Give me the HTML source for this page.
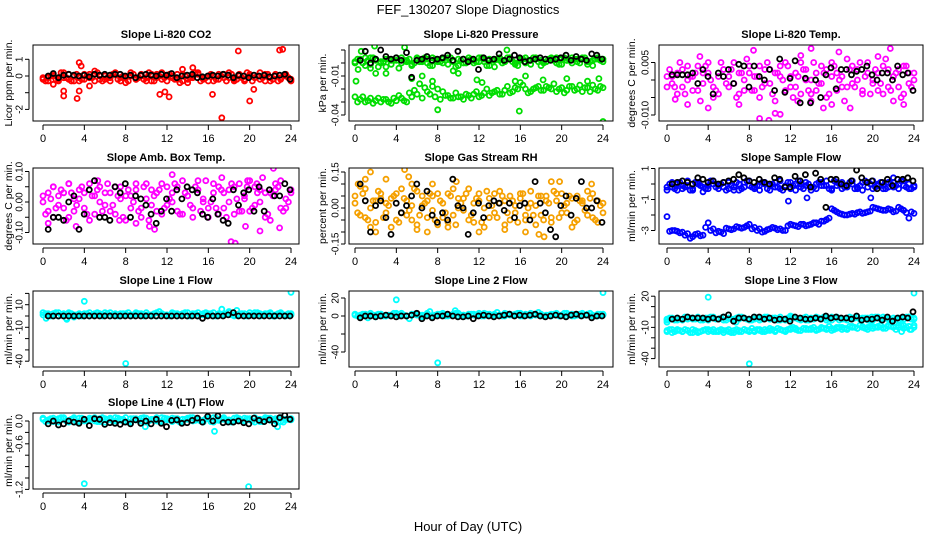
<!DOCTYPE html>
<html><head><meta charset="utf-8"><style>
html,body{margin:0;padding:0;background:#fff;}
svg{display:block;font-family:"Liberation Sans",Arial,sans-serif;}
</style></head><body>
<svg id="chart" width="936" height="540" viewBox="0 0 936 540" xmlns="http://www.w3.org/2000/svg">
<rect width="936" height="540" fill="#fff"/>
<text x="468" y="14" font-size="13" text-anchor="middle">FEF_130207  Slope Diagnostics</text>
<text x="468" y="531" font-size="13" text-anchor="middle">Hour of Day (UTC)</text>
</svg>
<script>
const xTicks=[0,4,8,12,16,20,24];
// CO2
const co2A=[-0.2,-0.1,0.1,-0.3,0.2,-0.2,0,-0.3,0.1,-0.1,0.3,-0.2,0,-0.3,0.1,-0.1,-0.4,0.2,-0.2,0,-0.3,0.1,-0.1,0.2,-0.3,0,-0.2,0.1,-0.4,-0.1,0.1,-0.2,0,-0.3,0.1,-0.1,0.2,-0.2,0,-0.3,0.1,-0.1,-0.2,0.1,-0.3,0,-0.1,0.1,-0.2];
const co2B=[-0.3,0,-0.2,0.2,-0.1,-0.3,0.1,-0.2,0,-0.1,0.2,-0.3,-0.1,0.1,-0.2,0,-0.3,0.1,-0.1,-0.2,0.2,-0.3,0,-0.1,0.1,-0.2,-0.4,0,-0.1,0.2,-0.3,-0.1,0.1,-0.2,0,-0.3,0.1,-0.2,-0.1,0.2,-0.3,0,-0.1,0.1,-0.2,-0.3,0,-0.1];
const co2C=[-0.1,-0.3,0,-0.2,-0.1,0.1,-0.3,-0.1,-0.2,0.1,-0.3,0,-0.2,-0.1,0.2,-0.3,-0.1,0,-0.2,0.1,-0.1,-0.3,0.1,-0.2,0,-0.1,0.1,-0.3,-0.2,0,0.2,-0.1,-0.3,0,-0.2,0.1,-0.1,-0.3,0.1,-0.2,0,-0.1,0.2,-0.3,-0.1,0.1,-0.2,0,-0.3];
const co2OutT=[2,2,3.3,3.5,3.5,3.7,4.5,11.3,11.8,12.2,16.4,17.3,18.9,20,20.4,22.9,23.2,1,14.5,13.5];
const co2OutV=[-0.9,-1.2,-1.35,-0.9,0.8,0.6,-0.6,-1.1,-0.95,-1.25,-1.1,-2.5,1.5,-1.5,-0.8,1.55,1.6,-0.5,0.5,0.4];
const co2Black=[0,0.15,-0.1,0.05,0.1,0.05,0,0.05,-0.05,0.1,0.05,0.1,0.05,0.1,0.1,0,0.05,-0.1,0.05,0.1,0.05,0,0.1,0.05,0.15,-0.1,0,0.05,0.1,-0.1,-0.05,0,0.05,0,0.1,0.05,-0.1,0.05,0,-0.1,0.05,0,0.05,-0.05,0,0.05,0.1,-0.2];
// Pressure
const presA=[0.001,0.003,-0.002,0.004,0.002,0,0.003,-0.001,0.002,0.004,0.001,-0.002,0.003,0.002,0,0.004,0.001,0.003,-0.001,0.002,0.003,0,0.004,0.002,0.001,0.003,-0.002,0.002,0.004,0.001,0.003,0,0.002,0.004,-0.001,0.003,0.002,0.001,0.004,0,0.003,0.002,0.004,0.001,0.003,-0.001,0.002,0.004,0.003];
const presB=[0.003,0,0.002,0.004,-0.003,0.001,0.003,0.002,-0.004,0.002,0.003,0,0.001,0.004,-0.002,0.003,0.001,0.002,0.004,-0.003,0.002,0,0.003,0.001,0.004,-0.002,0.002,0.003,0,0.004,0.001,-0.002,0.003,0.002,0.004,0.001,0,0.003,0.002,-0.001,0.004,0.002,0.003,0,0.004,0.001,0.003,0.002];
const presE=[0,0.002,0.004,-0.001,0.003,0.001,-0.003,0.002,0.004,0,0.002,-0.001,0.004,0.001,0.003,-0.002,0.002,0,0.004,0.001,-0.002,0.003,0.002,0,0.004,0.001,0.003,-0.003,0.002,0.001,0.004,-0.001,0.003,0,0.002,0.004,-0.002,0.001,0.003,0.004,-0.001,0.002,0,0.003,0.004,0.001,-0.002,0.003,0.001];
const presC=[-0.026,-0.028,-0.03,-0.027,-0.029,-0.03,-0.028,-0.031,-0.029,-0.027,-0.03,-0.026,-0.024,-0.027,-0.022,-0.018,-0.02,-0.022,-0.025,-0.027,-0.026,-0.028,-0.025,-0.024,-0.026,-0.023,-0.025,-0.022,-0.024,-0.021,-0.023,-0.019,-0.015,-0.02,-0.022,-0.019,-0.021,-0.018,-0.02,-0.022,-0.019,-0.021,-0.018,-0.02,-0.022,-0.019,-0.017,-0.021,-0.019];
const presD=[-0.03,-0.026,-0.029,-0.031,-0.027,-0.028,-0.03,-0.027,-0.025,-0.029,-0.023,-0.021,-0.016,-0.019,-0.024,-0.026,-0.028,-0.025,-0.027,-0.023,-0.026,-0.024,-0.027,-0.022,-0.025,-0.02,-0.023,-0.021,-0.024,-0.018,-0.022,-0.02,-0.017,-0.023,-0.02,-0.018,-0.021,-0.019,-0.016,-0.02,-0.023,-0.018,-0.021,-0.017,-0.019,-0.022,-0.02,-0.018];
const presOutT=[0.1,0.3,1.9,0.6,4.8,8,15.9,24,14.7,2,3,5.5,6.5,7.5,10,11.8,12.3,15.5,16.5,18.2,20.5,22.5,23.6,1.5,9.5];
const presOutV=[-0.014,-0.005,0.013,0.009,0.012,-0.036,-0.037,-0.045,0.01,-0.008,-0.008,-0.012,-0.01,-0.014,-0.008,-0.013,-0.015,-0.014,-0.01,-0.013,-0.012,-0.014,-0.012,-0.004,-0.006];
const presBlack=[0.002,0.009,0,0.003,0.01,0.005,0.003,0.004,0.002,0.008,-0.011,0.002,0.003,0.005,0.002,0.003,0.004,0.006,0.002,0.009,0.003,0.001,0.003,-0.005,0.004,0.002,0.003,0.007,0.002,0.003,0.006,0.004,0.001,0.002,0.003,0.004,0.003,0.002,0.003,0.004,0.006,0.002,0.005,0.003,0.002,0.007,0.006,0.003];
// Li-820 temp
const ltA=[-0.002,0.001,-0.004,0.003,0,-0.003,0.004,-0.001,0.002,-0.005,0.001,0.003,-0.002,0.005,-0.004,0,0.002,-0.003,0.004,-0.001,0.003,-0.006,0.001,0.005,-0.002,0.002,-0.004,0.003,0,-0.003,0.004,-0.005,0.001,0.002,-0.002,0.006,-0.001,0.003,-0.004,0.002,0,-0.003,0.004,-0.002,0.001,0.003,-0.004,0.002,0];
const ltB=[0.003,-0.002,0.005,-0.004,0.001,0.002,-0.006,0.004,0,-0.003,0.005,-0.001,0.003,-0.005,0.002,0.006,-0.003,0.001,-0.002,0.005,-0.004,0.002,0,0.004,-0.005,0.001,0.003,-0.003,0.005,-0.001,0.002,-0.004,0.004,0,-0.006,0.003,-0.002,0.005,0.001,-0.004,0.003,-0.001,0.006,-0.003,0.002,-0.005,0.004,-0.002];
const ltC=[0.001,-0.001,0.002,-0.002,0.004,0.001,-0.003,0.002,0.005,-0.002,-0.004,0.003,0.001,-0.001,0.002,-0.003,0.004,0.001,-0.005,0.003,-0.001,0.002,0.004,-0.003,0.001,-0.002,0.005,0,-0.004,0.002,-0.001,0.003,0.005,-0.003,0.001,-0.002,0.004,0,-0.003,0.005,-0.001,0.002,-0.004,0.003,0.001,-0.002,0.004,-0.001,0.002];
const ltOutT=[2,4,7,9,9.9,10.5,11,12.7,14,15.2,16,17.8,22,23,8.4,14,16.7,21.7,3.2,20.5,0.8,13];
const ltOutV=[-0.007,-0.008,-0.007,-0.011,-0.0115,-0.0095,-0.0098,-0.006,-0.006,-0.008,-0.007,-0.008,-0.006,-0.007,0.0085,0.009,0.008,0.009,0.0067,0.0067,-0.0055,0.007];
const ltBlack=[0.0015,0.0015,0.0015,0.0015,0.002,-0.001,0.003,0.001,-0.004,0.002,0.001,0.003,-0.001,0.0045,0.004,-0.002,0.004,0.001,0,0.003,-0.003,0.006,-0.0035,0.0005,0.0055,-0.0065,0.0005,-0.0065,0,-0.005,0.0015,0.0035,-0.0025,0.003,0.003,0.0015,0.0025,0.003,0.004,0.0015,0,0.002,0.002,0,0.004,0.0015,0.002,-0.003];
// Amb box temp
const abA=[0.02,-0.03,0.05,-0.01,0.03,-0.05,0.01,0.04,-0.02,0.06,-0.04,0,0.03,-0.03,0.05,0.01,-0.06,0.02,0.04,-0.02,0.06,-0.01,0.03,-0.04,0.05,0,-0.03,0.07,0.02,-0.05,0.04,0.01,-0.02,0.06,-0.04,0.03,0,0.05,-0.03,0.02,0.07,-0.01,0.04,-0.05,0.03,0.06,-0.02,0.01,0.04];
const abB=[-0.04,0.01,-0.02,0.04,-0.06,0.03,-0.01,0.05,-0.04,0.02,0.04,-0.03,0.06,-0.01,0.02,-0.05,0.04,0,-0.03,0.05,-0.06,0.02,0.04,-0.02,0.01,0.06,-0.04,0.03,-0.01,0.05,-0.03,0.07,0,-0.02,0.04,-0.05,0.06,0.01,-0.03,0.05,-0.02,0.03,0.08,-0.04,0.02,0.05,-0.03,0];
const abC=[0,0.03,-0.05,0.02,-0.02,0.06,-0.03,0.01,0.03,-0.06,0.02,0.05,-0.01,0.03,-0.04,0.05,0.02,-0.02,0.06,-0.05,0.01,0.04,-0.03,0.06,-0.01,0.03,0.05,-0.04,0.02,-0.02,0.07,0,-0.05,0.03,0.05,-0.02,0.04,-0.04,0.06,0.01,-0.03,0.05,0,0.03,-0.06,0.04,0.07,-0.02,0.03];
const abOutT=[0.5,1,2.5,3.2,5.3,7.4,9,10.3,10.8,12.5,17.3,18.2,18.6,19.6,19.8,21,22.3,22.9,20.7];
const abOutV=[-0.07,0.05,0.06,-0.08,0.07,-0.06,-0.07,-0.08,-0.09,0.09,0.08,-0.13,-0.135,-0.08,0.07,-0.095,0.11,-0.085,0.06];
const abBlack=[-0.09,-0.05,-0.05,-0.06,0,0.02,-0.09,-0.04,0.04,0.07,-0.05,-0.05,-0.06,0.05,0.03,0.06,-0.05,0.02,0.01,-0.01,-0.04,-0.07,-0.03,0.01,-0.03,0.04,0.01,0.05,0.04,0.03,-0.04,-0.05,0.01,-0.04,-0.06,-0.07,0.04,-0.01,0.03,0.04,-0.03,0.05,-0.03,0.04,0.02,0.02,0.06,0.04];
// Gas stream RH
const rhA=[0.05,-0.03,0.08,0,-0.06,0.04,0.02,-0.08,0.06,-0.02,0.03,-0.05,0.07,0.01,-0.04,0.05,-0.07,0.02,0.06,-0.03,0.04,-0.01,0.08,-0.06,0.03,0,-0.04,0.06,0.02,-0.07,0.05,-0.02,0.04,-0.05,0.07,0.01,-0.03,0.05,-0.06,0.03,0.06,-0.02,0.04,-0.05,0.02,0.07,-0.04,0.03,-0.02];
const rhB=[-0.02,0.06,-0.05,0.03,0.07,-0.04,0.01,0.05,-0.06,0.04,-0.01,0.08,-0.03,0.02,0.06,-0.05,0.03,-0.02,0.05,-0.07,0.02,0.06,-0.03,0.04,-0.06,0.07,0.01,-0.04,0.05,-0.02,0.03,-0.06,0.06,0,-0.03,0.05,-0.05,0.02,0.07,-0.04,0.01,0.05,-0.06,0.03,-0.01,0.04,-0.05,0.01];
const rhC=[0.02,0.09,-0.04,-0.08,0.03,0.06,-0.02,0.04,-0.05,0.08,-0.03,0.01,-0.07,0.05,0.03,-0.01,0.06,-0.04,-0.06,0.08,0,0.04,-0.05,0.02,0.06,-0.08,0.04,-0.02,0.07,0.03,-0.05,0.01,0.06,-0.03,0.02,-0.07,0.05,0.03,-0.04,0.06,-0.02,0.02,-0.08,0.05,0.03,-0.03,0.06,-0.06,0.02];
const rhOutT=[0.3,1,1.5,3,3.3,4.8,5.2,5.5,6,7,7.5,9,9.8,12,16.5,17.8,18.3,19,19.8,22.9,2,14.5];
const rhOutV=[0.1,0.12,0.15,0.12,-0.17,0.16,0.13,0.1,-0.09,-0.1,0.1,-0.08,0.11,-0.1,-0.1,-0.11,-0.12,0.11,0.11,0.1,-0.1,-0.09];
const rhBlack=[0.1,0.03,-0.1,0.01,0.03,-0.04,-0.11,0.02,-0.02,0.01,0.05,0.1,0,0.07,-0.03,-0.06,-0.02,-0.05,0.12,0.01,0,-0.11,-0.02,0.02,-0.04,0.01,0.03,0.02,-0.01,0.02,-0.04,0.01,0.02,-0.05,0.11,0.02,-0.02,-0.09,-0.12,0.01,0.05,-0.03,0.04,0.11,0,0,0.03,-0.06];
// Sample flow
const sfA=[-0.2,0.1,-0.4,-0.1,0.2,-0.3,0,-0.5,-0.1,0.2,-0.3,-0.2,0.1,-0.4,0,-0.2,0.2,-0.3,-0.1,0.1,-0.4,-0.2,0.2,-0.1,-0.3,0,-0.2,0.1,-0.4,0,-0.1,0.2,-0.3,-0.1,0.1,-0.2,0,-0.3,0.1,-0.2,0.2,-0.1,-0.3,0.1,-0.2,0,0.2,-0.3,-0.1];
const sfB=[0,-0.3,0.1,-0.2,-0.4,0.1,-0.1,-0.3,0.2,-0.2,0,-0.4,-0.1,0.1,-0.3,0.2,-0.2,-0.1,0.1,-0.3,0,-0.2,-0.4,0.1,-0.1,0.2,-0.3,0,-0.2,0.1,-0.1,-0.3,0.2,0,-0.2,0.1,-0.3,-0.1,0.2,0,-0.2,0.1,-0.3,0,-0.1,0.2,-0.2,-0.3];
const sfE=[-0.4,-0.2,0,-0.3,-0.1,-0.4,0.1,-0.2,-0.3,0,-0.1,0.1,-0.3,-0.2,-0.4,0.1,-0.1,-0.2,-0.4,0,-0.1,0.1,-0.3,-0.2,0.1,-0.4,0,-0.1,-0.2,-0.3,0.1,-0.1,-0.4,0.1,-0.3,-0.1,0.2,-0.2,-0.4,0.1,-0.3,0,-0.1,-0.2,0.1,-0.3,-0.1,0,-0.2];
const sfC=[-2.1,-3,-3.05,-3.1,-3.2,-3.4,-3.2,-3.3,-2.5,-2.9,-3.05,-3.2,-2.9,-2.9,-2.8,-2.8,-2.6,-2.8,-2.9,-3.05,-2.9,-2.85,-2.9,-3,-2.6,-2.7,-2.6,-2.7,-2.6,-2.5,-2.4,-2.3,-1.6,-1.8,-1.95,-2,-1.9,-1.85,-1.9,-1.8,-1.5,-1.6,-1.7,-1.6,-1.8,-1.5,-1.7,-2.2,-1.9];
const sfD=[-3.05,-3,-3.15,-3.3,-3.5,-3.25,-3.35,-2.8,-3,-3.15,-3.1,-2.85,-2.95,-2.75,-2.85,-2.7,-2.9,-3,-3.1,-2.95,-2.8,-2.95,-3,-2.7,-2.65,-2.75,-2.6,-2.65,-2.5,-2.6,-2.4,-2.2,-1.7,-1.9,-2,-1.95,-1.95,-1.8,-1.85,-1.75,-1.55,-1.65,-1.7,-1.65,-1.75,-1.6,-1.85,-1.8];
const sfOutT=[11.8,13.6,19.8,22];
const sfOutV=[-1.1,-0.9,-0.9,0.4];
const sfBlack=[0,0.1,0.2,0.1,0,0.4,0.3,0.1,0.2,0,0.1,0.2,0.3,0.6,0.4,0.2,0.1,0.3,0.1,0,0.4,0.3,-0.2,-0.2,0.5,0.2,0.6,-0.2,0.7,0.3,-1.5,0.3,0.3,0,-0.1,0.2,0.9,0.4,0.1,0.2,-0.3,0.1,0.3,-0.1,0.3,0.3,0.4,0.2];
// Line 1
const l1A=[1,2,0,3,1,2,-1,1,2,0,2,1,3,0,1,2,1,0,2,1,3,1,0,2,1,3,2,1,0,2,3,1,2,0,1,2,4,1,2,0,1,3,2,1,2,0,3,1,2];
const l1B=[2,0,3,1,-2,2,1,0,2,1,3,0,2,1,0,2,3,1,2,0,1,2,4,1,0,2,1,3,0,2,1,3,2,0,1,2,1,5,2,0,1,3,1,2,0,2,1,2];
const l1C=[3,1,2,0,2,3,1,2,0,3,1,2,1,3,2,0,2,1,3,2,1,0,3,2,1,2,0,2,3,1,0,2,1,3,2,1,3,0,1,2,3,1,0,2,3,1,2,0,1];
const l1OutT=[0.3,4,8,24,2.3,17.3];
const l1OutV=[-2,13,-42,21,-3,6];
const l1Black=[0,0,0,0,0,0,0,0,0,0,0,0,0,0,0,0,0,0,0,0,0,0,0,0,0,0,0,0,0,0,-2,0,0,0,0,1,3,0,0,0,0,0,0,0,0,0,0,0];
// Line 2
const l2A=[1,0,2,1,-1,2,0,1,3,1,0,2,1,-1,2,0,1,3,1,2,0,1,2,1,3,0,1,2,1,0,2,1,3,2,0,1,2,1,0,2,1,3,0,1,2,1,0,2,1];
const l2B=[0,2,-2,1,2,0,1,3,0,1,-3,2,1,0,5,1,2,0,1,3,1,0,2,1,0,2,1,4,0,2,1,3,0,1,2,4,0,1,2,0,3,1,0,2,1,3,0,2];
const l2C=[2,1,0,3,1,2,0,1,2,3,0,1,2,1,3,0,2,1,0,2,3,1,0,2,1,3,2,0,1,3,1,2,0,1,3,2,1,0,2,3,1,0,2,1,3,2,1,0,2];
const l2OutT=[4,8,24,9.7];
const l2OutV=[18,-52,26,6];
const l2Black=[-2,0,0,-1,0,1,0,-1,0,0,1,3,-3,0,-2,0,0,2,0,-1,-1,0,-3,0,1,0,-1,0,1,2,0,1,0,1,2,0,-1,0,1,0,-1,1,2,0,1,-2,0,0];
// Line 3
const l3A=[-2,-1,-3,-2,0,-2,-1,-3,-1,0,-2,-3,-1,-2,0,-1,-3,-2,-1,0,-2,-1,-3,-2,0,-1,-2,-3,-1,0,-2,-1,-3,0,-2,-1,-2,0,-1,-3,-2,-1,0,-2,-1,-3,-2,0,-1];
const l3B=[-1,-3,-2,0,-1,-2,-3,-1,0,-2,-1,-3,-2,-1,0,-2,-3,-1,-2,0,-1,-3,-2,-1,0,-2,-1,-3,-2,-1,0,-2,-1,-3,-2,0,-1,-2,-1,-3,0,-2,-1,-3,-2,-1,0,-2];
const l3C=[-14,-12,-13,-14,-13,-15,-14,-13,-14,-12,-14,-13,-14,-15,-13,-12,-13,-14,-13,-12,-13,-14,-12,-13,-11,-12,-13,-12,-11,-12,-11,-12,-11,-10,-12,-11,-10,-11,-9,-10,-11,-9,-10,-8,-9,-10,-8,-9,-10];
const l3D=[-12,-14,-13,-12,-15,-13,-14,-12,-13,-14,-12,-13,-15,-12,-14,-13,-11,-12,-14,-13,-12,-11,-13,-12,-10,-13,-11,-12,-10,-12,-11,-9,-12,-10,-11,-9,-10,-8,-11,-9,-10,-8,-11,-9,-12,-8,-10,-12];
const l3E=[-13,-15,-12,-14,-13,-12,-15,-13,-12,-14,-13,-15,-12,-13,-14,-12,-14,-13,-12,-14,-11,-13,-12,-14,-12,-11,-13,-11,-12,-13,-10,-11,-13,-11,-10,-12,-9,-11,-10,-12,-9,-10,-11,-9,-10,-8,-11,-9,-8];
const l3F=[-3,-2,-1,-3,-2,-1,0,-2,-3,-1,-2,0,-1,-3,-2,-1,-2,0,-3,-1,-2,-1,0,-3,-2,-1,-3,0,-2,-1,-2,-3,0,-1,-2,-3,-1,0,-2,-1,-3,0,-2,-1,-3,-1,-2,0,-2];
const l3OutT=[4,8,24,12,19.9,23.6,22.8,0,6.7];
const l3OutV=[19,-45,23,1,0,-12,-14,-5,-5];
const l3Black=[-2,-1,-2,0,-1,-1,-1,-2,-1,-2,0,2,-4,-1,-1,-2,0,0,-2,-1,-3,-2,-2,-4,0,-1,-2,-2,-1,-2,1,-1,0,-1,-1,-2,1,-3,-2,-2,-1,-3,0,-4,-1,0,-1,5];
// Line 4
const l4A=[0.03,0,0.05,-0.02,0.04,0.01,0.06,-0.01,0.03,0.05,0,0.04,-0.02,0.03,0.06,0.01,-0.01,0.04,0.02,0.05,-0.02,0.03,0,0.06,0.02,-0.01,0.04,0.03,0.05,0,0.02,-0.02,0.04,0.06,0.01,0.03,-0.01,0.05,0.02,0,0.04,-0.02,0.03,0.06,0.01,0.04,-0.01,0.03,0.02];
const l4B=[-0.01,0.04,0.02,0.06,0,0.03,-0.02,0.05,0.01,0.04,-0.01,0.06,0.02,0,0.05,0.03,-0.02,0.04,0.01,0.06,0,0.03,-0.01,0.05,0.02,0.04,-0.02,0.03,0.06,0.01,0,0.04,-0.01,0.05,0.03,0.02,-0.02,0.06,0.01,0.04,0,0.03,-0.01,0.05,0.02,0.04,-0.02,0.03];
const l4C=[0.05,0.02,-0.01,0.04,0.06,-0.02,0.03,0.05,0,0.02,0.06,-0.01,0.04,0.05,0,0.03,0.06,-0.02,0.04,0,0.05,0.02,0.06,-0.01,0.04,0.05,0.01,-0.02,0.03,0.06,0.04,0.01,0.05,-0.02,0.03,0.06,0.02,0,0.04,0.05,0.02,0.06,-0.01,0.03,0.05,0,0.06,0.02,0.04];
const l4OutT=[4,12,19.9,16.6,9.9,22.7];
const l4OutV=[-1.1,-1.3,-1.15,-0.18,-0.1,-0.1];
const l4Black=[-0.05,0,-0.07,-0.05,0,-0.02,-0.04,0.03,-0.08,0.04,0.03,-0.06,-0.03,-0.04,-0.06,-0.02,-0.05,0.02,-0.04,0,-0.05,0.03,-0.04,-0.1,0.01,0.02,-0.04,-0.03,0.01,0.05,-0.02,0.08,0,0.09,-0.03,-0.02,-0.02,0,-0.03,-0.05,0.05,0.01,-0.01,0.02,-0.05,0.06,0.1,0.03];

const NS='http://www.w3.org/2000/svg';
const svg=document.getElementById('chart');
function mk(tag,attrs,parent){const e=document.createElementNS(NS,tag);for(const k in attrs)e.setAttribute(k,attrs[k]);(parent||svg).appendChild(e);return e;}

const cols=[{bx0:33,bx1:299,x0:43,x24:291,yl:9,tl:20},{bx0:349,bx1:613,x0:355,x24:603,yl:323,tl:336},{bx0:659,bx1:923,x0:667,x24:914,yl:632,tl:646}];
const rows=[{top:45,bot:121},{top:168,bot:244},{top:291,bot:367},{top:413,bot:489}];

const panels=[
 {id:'co2',title:'Slope Li-820 CO2',ylab:'Licor ppm per min.',r:0,c:0,col:'#ff0000',v0:0,y0:76,ppu:16.7,ticks:[1,0,-1,-2],labs:['1','0','','-2'],bands:[co2A,co2B,co2C],outT:co2OutT,outV:co2OutV,blk:co2Black},
 {id:'pressure',title:'Slope Li-820 Pressure',ylab:'kPa per min.',r:0,c:1,col:'#00dd00',v0:0,y0:63,ppu:1300,ticks:[0.01,0,-0.01,-0.02,-0.03,-0.04],labs:['','','-0.01','','','-0.04'],bands:[presA,presB,presE,presC,presD],outT:presOutT,outV:presOutV,blk:presBlack},
 {id:'li820-temp',title:'Slope Li-820 Temp.',ylab:'degrees C per min.',r:0,c:2,col:'#ff00ff',v0:0,y0:80,ppu:3500,ticks:[0.005,0,-0.005,-0.01],labs:['0.005','','','-0.010'],bands:[ltA,ltB,ltC],outT:ltOutT,outV:ltOutV,blk:ltBlack},
 {id:'amb-box-temp',title:'Slope Amb. Box Temp.',ylab:'degrees C per min.',r:1,c:0,col:'#ff00ff',v0:0,y0:202,ppu:305,ticks:[0.1,0.05,0,-0.05,-0.1],labs:['0.10','','0.00','','-0.10'],bands:[abA,abB,abC],outT:abOutT,outV:abOutV,blk:abBlack},
 {id:'gas-stream-rh',title:'Slope Gas Stream RH',ylab:'percent per min.',r:1,c:1,col:'#f5a000',v0:0,y0:208,ppu:240,ticks:[0.15,0.1,0.05,0,-0.05,-0.1,-0.15],labs:['0.15','','','0.00','','','-0.15'],bands:[rhA,rhB,rhC],outT:rhOutT,outV:rhOutV,blk:rhBlack},
 {id:'sample-flow',title:'Slope Sample Flow',ylab:'ml/min per min.',r:1,c:2,col:'#0000ff',v0:0,y0:184,ppu:15.5,ticks:[1,0,-1,-2,-3],labs:['1','','-1','','-3'],bands:[sfA,sfB,sfE,sfC,sfD],outT:sfOutT,outV:sfOutV,blk:sfBlack},
 {id:'line1-flow',title:'Slope Line 1 Flow',ylab:'ml/min per min.',r:2,c:0,col:'#00ffff',v0:0,y0:316,ppu:1.13,ticks:[20,10,0,-10,-20,-30,-40],labs:['','10','','-10','','','-40'],bands:[l1A,l1B,l1C],outT:l1OutT,outV:l1OutV,blk:l1Black},
 {id:'line2-flow',title:'Slope Line 2 Flow',ylab:'ml/min per min.',r:2,c:1,col:'#00ffff',v0:0,y0:316,ppu:0.9,ticks:[20,0,-20,-40],labs:['20','0','','-40'],bands:[l2A,l2B,l2C],outT:l2OutT,outV:l2OutV,blk:l2Black},
 {id:'line3-flow',title:'Slope Line 3 Flow',ylab:'ml/min per min.',r:2,c:2,col:'#00ffff',v0:0,y0:317,ppu:1.04,ticks:[20,10,0,-10,-20,-30,-40],labs:['20','','','-10','','','-40'],bands:[l3A,l3B,l3F,l3C,l3D,l3E],outT:l3OutT,outV:l3OutV,blk:l3Black},
 {id:'line4-flow',title:'Slope Line 4 (LT) Flow',ylab:'ml/min per min.',r:3,c:0,col:'#00ffff',v0:0,y0:421,ppu:57,ticks:[0,-0.2,-0.4,-0.6,-0.8,-1,-1.2],labs:['0.0','','-0.6','','','','-1.2'],bands:[l4A,l4B,l4C],outT:l4OutT,outV:l4OutV,blk:l4Black}
];

panels.forEach(p=>{
  const C=cols[p.c],R=rows[p.r];
  const g=mk('g',{});
  
  
  const xs=h=>C.x0+(C.x24-C.x0)*h/24;
  const ys=v=>p.y0-(v-p.v0)*p.ppu;
  const clip=mk('clipPath',{id:'clip-'+p.id},g);
  mk('rect',{x:C.bx0,y:R.top,width:C.bx1-C.bx0,height:R.bot-R.top},clip);
  const t=mk('text',{x:(C.bx0+C.bx1)/2,y:R.top-7,'font-size':11,'font-weight':'bold','text-anchor':'middle'},g);
  t.textContent=p.title;
  
  
  const yl=mk('text',{x:C.yl,y:(R.top+R.bot)/2,'font-size':10.5,'text-anchor':'middle',transform:`rotate(-90 ${C.yl} ${(R.top+R.bot)/2})`,'dominant-baseline':'central'},g);
  yl.textContent=p.ylab;
  
  
  const xa=mk('g',{},g);
  
  
  mk('line',{x1:xs(0),x2:xs(24),y1:R.bot+4,y2:R.bot+4,stroke:'#000','stroke-width':1},xa);
  xTicks.forEach(v=>{
    mk('line',{x1:xs(v),x2:xs(v),y1:R.bot+4,y2:R.bot+9,stroke:'#000'},xa);
    const tl=mk('text',{x:xs(v),y:R.bot+21,'font-size':11,'text-anchor':'middle'},xa);
    tl.textContent=String(v);
    
    
  });
  const ya=mk('g',{},g);
  
  
  const ax=C.bx0-4;
  mk('line',{x1:ax,x2:ax,y1:ys(p.ticks[0]),y2:ys(p.ticks[p.ticks.length-1]),stroke:'#000'},ya);
  p.ticks.forEach((v,i)=>{
    const y=ys(v);
    mk('line',{x1:ax-4,x2:ax,y1:y,y2:y,stroke:'#000'},ya);
    if(p.labs[i]){
      const tl=mk('text',{x:C.tl,y:y,'font-size':10,'text-anchor':'middle','dominant-baseline':'central',transform:`rotate(-90 ${C.tl} ${y})`},ya);
      tl.textContent=p.labs[i];
      
      
    }
  });
  const pts=mk('g',{'clip-path':`url(#clip-${p.id})`,fill:'none','stroke-width':1.8},g);
  
  
  const dot=(h,v,col)=>{
    const c=mk('circle',{cx:xs(h).toFixed(1),cy:ys(v).toFixed(1),r:2.5,stroke:col},pts);
    
    
  };
  p.bands.forEach(arr=>{
    const n=arr.length;
    arr.forEach((v,i)=>{
      const h=(n%2===1)?i*24/(n-1):(i+0.5)*24/n;
      dot(h,v,p.col);
    });
  });
  p.outT.forEach((h,i)=>dot(h,p.outV[i],p.col));
  const nb=p.blk.length;
  p.blk.forEach((v,i)=>dot(0.5+i*23.4/(nb-1),v,'#000'));
  const box=mk('rect',{x:C.bx0,y:R.top,width:C.bx1-C.bx0,height:R.bot-R.top,fill:'none',stroke:'#000','stroke-width':1},g);
  
  
});
</script>
</body></html>
